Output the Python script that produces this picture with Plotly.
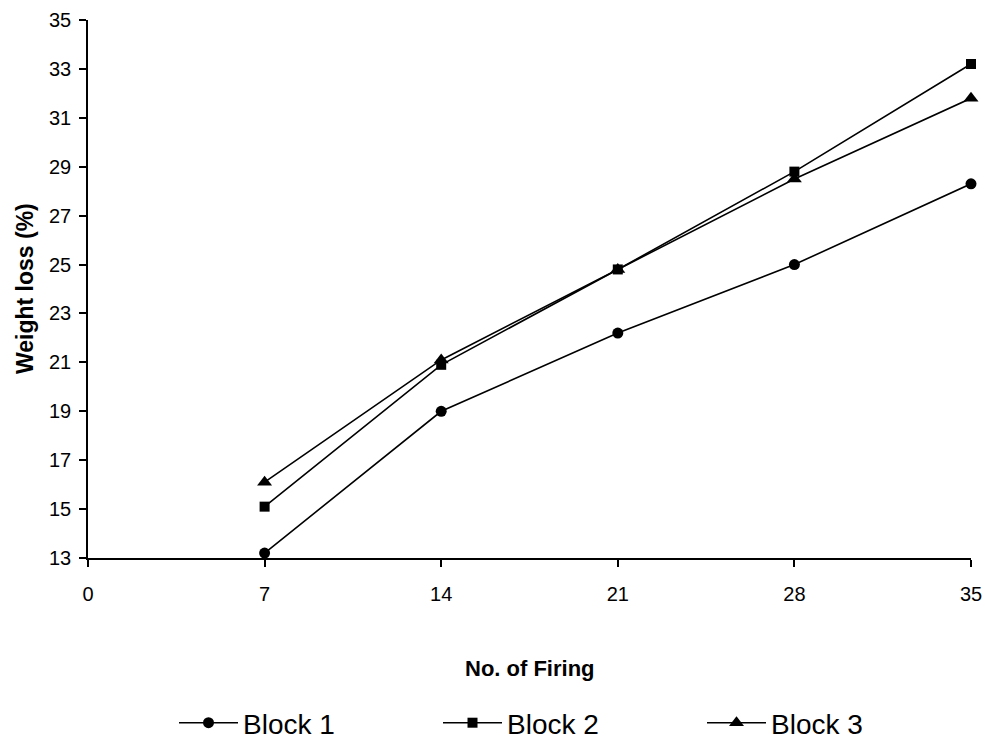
import plotly.graph_objects as go

firing = [7, 14, 21, 28, 35]
block1 = [13.2, 19.0, 22.2, 25.0, 28.3]
block2 = [15.1, 20.9, 24.8, 28.8, 33.2]
block3 = [16.1, 21.1, 24.8, 28.5, 31.8]
x_ticks = [0, 7, 14, 21, 28, 35]
y_ticks = list(range(13, 36, 2))

FONT = "Liberation Sans, Arial, sans-serif"

fig = go.Figure()
series = [("Block 1", block1, "circle", 11),
          ("Block 2", block2, "square", 10),
          ("Block 3", block3, "triangle-up", 13)]
for name, vals, sym, size in series:
    fig.add_trace(go.Scatter(
        x=firing, y=vals, name=name, mode="lines+markers",
        line=dict(color="black", width=1.6),
        marker=dict(symbol=sym, size=size, color="black"),
        cliponaxis=False,
    ))

fig.update_layout(
    width=985, height=740,
    margin=dict(l=88, r=14, t=20, b=182, autoexpand=False),
    plot_bgcolor="white", paper_bgcolor="white",
    font=dict(family=FONT, color="black", size=20),
    showlegend=True,
    legend=dict(orientation="h", x=0.0974, xanchor="left", y=-0.3067, yanchor="middle",
                font=dict(size=28), entrywidth=190, entrywidthmode="pixels",
                itemwidth=59, borderwidth=0),
    xaxis=dict(range=[0, 35], tickvals=x_ticks, showline=True, linecolor="black",
               linewidth=1.5, ticks="outside", ticklen=7, tickcolor="black",
               tickwidth=1.5, showgrid=False, zeroline=False, automargin=False,
               tickfont=dict(size=20), ticklabelstandoff=10),
    yaxis=dict(range=[13, 35], tickvals=y_ticks, showline=True, linecolor="black",
               linewidth=1.5, ticks="outside", ticklen=7, tickcolor="black",
               tickwidth=1.5, showgrid=False, zeroline=False, automargin=False,
               tickfont=dict(size=20), ticklabelstandoff=4),
    annotations=[
        dict(text="<b>No. of Firing</b>", xref="paper", yref="paper",
             x=0.5, y=-0.2045, xanchor="center", yanchor="middle",
             showarrow=False, font=dict(size=22)),
        dict(text="<b>Weight loss (%)</b>", xref="paper", yref="paper",
             x=-0.0713, y=0.5, xanchor="center", yanchor="middle", textangle=-90,
             showarrow=False, font=dict(size=23)),
    ],
)

fig.write_html("out.html",
               config={"displayModeBar": False},
               post_script="document.body.style.margin='0';document.body.style.overflow='hidden';")
